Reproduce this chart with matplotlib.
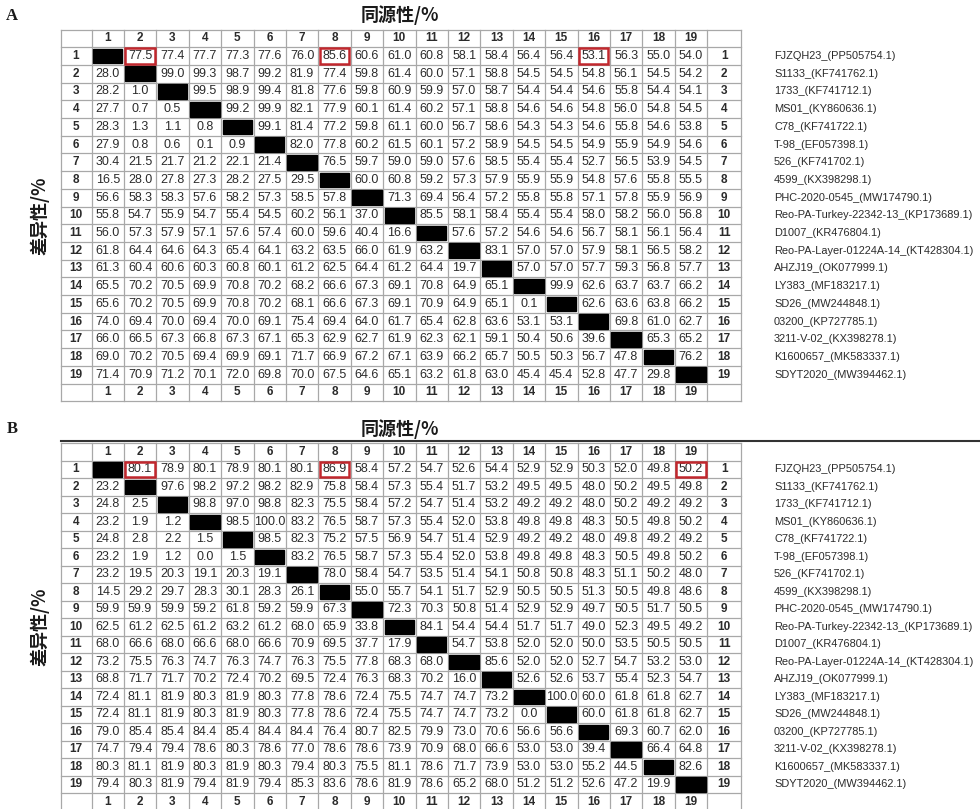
import matplotlib
matplotlib.use('Agg')
import matplotlib.pyplot as plt
from matplotlib.patches import Rectangle

plt.rcParams['font.family'] = ['Liberation Sans', 'DejaVu Sans']

# strain names (row order of both matrices)
names = [
    "FJZQH23_(PP505754.1)", "S1133_(KF741762.1)", "1733_(KF741712.1)",
    "MS01_(KY860636.1)", "C78_(KF741722.1)", "T-98_(EF057398.1)",
    "526_(KF741702.1)", "4599_(KX398298.1)", "PHC-2020-0545_(MW174790.1)",
    "Reo-PA-Turkey-22342-13_(KP173689.1)", "D1007_(KR476804.1)",
    "Reo-PA-Layer-01224A-14_(KT428304.1)", "AHZJ19_(OK077999.1)",
    "LY383_(MF183217.1)", "SD26_(MW244848.1)", "03200_(KP727785.1)",
    "3211-V-02_(KX398278.1)", "K1600657_(MK583337.1)", "SDYT2020_(MW394462.1)",
]

# upper triangle = identity %, lower triangle = divergence %, None = diagonal
matrix_a = [
    [None, 77.5, 77.4, 77.7, 77.3, 77.6, 76.0, 85.6, 60.6, 61.0, 60.8, 58.1, 58.4, 56.4, 56.4, 53.1, 56.3, 55.0, 54.0],
    [28.0, None, 99.0, 99.3, 98.7, 99.2, 81.9, 77.4, 59.8, 61.4, 60.0, 57.1, 58.8, 54.5, 54.5, 54.8, 56.1, 54.5, 54.2],
    [28.2, 1.0, None, 99.5, 98.9, 99.4, 81.8, 77.6, 59.8, 60.9, 59.9, 57.0, 58.7, 54.4, 54.4, 54.6, 55.8, 54.4, 54.1],
    [27.7, 0.7, 0.5, None, 99.2, 99.9, 82.1, 77.9, 60.1, 61.4, 60.2, 57.1, 58.8, 54.6, 54.6, 54.8, 56.0, 54.8, 54.5],
    [28.3, 1.3, 1.1, 0.8, None, 99.1, 81.4, 77.2, 59.8, 61.1, 60.0, 56.7, 58.6, 54.3, 54.3, 54.6, 55.8, 54.6, 53.8],
    [27.9, 0.8, 0.6, 0.1, 0.9, None, 82.0, 77.8, 60.2, 61.5, 60.1, 57.2, 58.9, 54.5, 54.5, 54.9, 55.9, 54.9, 54.6],
    [30.4, 21.5, 21.7, 21.2, 22.1, 21.4, None, 76.5, 59.7, 59.0, 59.0, 57.6, 58.5, 55.4, 55.4, 52.7, 56.5, 53.9, 54.5],
    [16.5, 28.0, 27.8, 27.3, 28.2, 27.5, 29.5, None, 60.0, 60.8, 59.2, 57.3, 57.9, 55.9, 55.9, 54.8, 57.6, 55.8, 55.5],
    [56.6, 58.3, 58.3, 57.6, 58.2, 57.3, 58.5, 57.8, None, 71.3, 69.4, 56.4, 57.2, 55.8, 55.8, 57.1, 57.8, 55.9, 56.9],
    [55.8, 54.7, 55.9, 54.7, 55.4, 54.5, 60.2, 56.1, 37.0, None, 85.5, 58.1, 58.4, 55.4, 55.4, 58.0, 58.2, 56.0, 56.8],
    [56.0, 57.3, 57.9, 57.1, 57.6, 57.4, 60.0, 59.6, 40.4, 16.6, None, 57.6, 57.2, 54.6, 54.6, 56.7, 58.1, 56.1, 56.4],
    [61.8, 64.4, 64.6, 64.3, 65.4, 64.1, 63.2, 63.5, 66.0, 61.9, 63.2, None, 83.1, 57.0, 57.0, 57.9, 58.1, 56.5, 58.2],
    [61.3, 60.4, 60.6, 60.3, 60.8, 60.1, 61.2, 62.5, 64.4, 61.2, 64.4, 19.7, None, 57.0, 57.0, 57.7, 59.3, 56.8, 57.7],
    [65.5, 70.2, 70.5, 69.9, 70.8, 70.2, 68.2, 66.6, 67.3, 69.1, 70.8, 64.9, 65.1, None, 99.9, 62.6, 63.7, 63.7, 66.2],
    [65.6, 70.2, 70.5, 69.9, 70.8, 70.2, 68.1, 66.6, 67.3, 69.1, 70.9, 64.9, 65.1, 0.1, None, 62.6, 63.6, 63.8, 66.2],
    [74.0, 69.4, 70.0, 69.4, 70.0, 69.1, 75.4, 69.4, 64.0, 61.7, 65.4, 62.8, 63.6, 53.1, 53.1, None, 69.8, 61.0, 62.7],
    [66.0, 66.5, 67.3, 66.8, 67.3, 67.1, 65.3, 62.9, 62.7, 61.9, 62.3, 62.1, 59.1, 50.4, 50.6, 39.6, None, 65.3, 65.2],
    [69.0, 70.2, 70.5, 69.4, 69.9, 69.1, 71.7, 66.9, 67.2, 67.1, 63.9, 66.2, 65.7, 50.5, 50.3, 56.7, 47.8, None, 76.2],
    [71.4, 70.9, 71.2, 70.1, 72.0, 69.8, 70.0, 67.5, 64.6, 65.1, 63.2, 61.8, 63.0, 45.4, 45.4, 52.8, 47.7, 29.8, None],
]

matrix_b = [
    [None, 80.1, 78.9, 80.1, 78.9, 80.1, 80.1, 86.9, 58.4, 57.2, 54.7, 52.6, 54.4, 52.9, 52.9, 50.3, 52.0, 49.8, 50.2],
    [23.2, None, 97.6, 98.2, 97.2, 98.2, 82.9, 75.8, 58.4, 57.3, 55.4, 51.7, 53.2, 49.5, 49.5, 48.0, 50.2, 49.5, 49.8],
    [24.8, 2.5, None, 98.8, 97.0, 98.8, 82.3, 75.5, 58.4, 57.2, 54.7, 51.4, 53.2, 49.2, 49.2, 48.0, 50.2, 49.2, 49.2],
    [23.2, 1.9, 1.2, None, 98.5, 100.0, 83.2, 76.5, 58.7, 57.3, 55.4, 52.0, 53.8, 49.8, 49.8, 48.3, 50.5, 49.8, 50.2],
    [24.8, 2.8, 2.2, 1.5, None, 98.5, 82.3, 75.2, 57.5, 56.9, 54.7, 51.4, 52.9, 49.2, 49.2, 48.0, 49.8, 49.2, 49.2],
    [23.2, 1.9, 1.2, 0.0, 1.5, None, 83.2, 76.5, 58.7, 57.3, 55.4, 52.0, 53.8, 49.8, 49.8, 48.3, 50.5, 49.8, 50.2],
    [23.2, 19.5, 20.3, 19.1, 20.3, 19.1, None, 78.0, 58.4, 54.7, 53.5, 51.4, 54.1, 50.8, 50.8, 48.3, 51.1, 50.2, 48.0],
    [14.5, 29.2, 29.7, 28.3, 30.1, 28.3, 26.1, None, 55.0, 55.7, 54.1, 51.7, 52.9, 50.5, 50.5, 51.3, 50.5, 49.8, 48.6],
    [59.9, 59.9, 59.9, 59.2, 61.8, 59.2, 59.9, 67.3, None, 72.3, 70.3, 50.8, 51.4, 52.9, 52.9, 49.7, 50.5, 51.7, 50.5],
    [62.5, 61.2, 62.5, 61.2, 63.2, 61.2, 68.0, 65.9, 33.8, None, 84.1, 54.4, 54.4, 51.7, 51.7, 49.0, 52.3, 49.5, 49.2],
    [68.0, 66.6, 68.0, 66.6, 68.0, 66.6, 70.9, 69.5, 37.7, 17.9, None, 54.7, 53.8, 52.0, 52.0, 50.0, 53.5, 50.5, 50.5],
    [73.2, 75.5, 76.3, 74.7, 76.3, 74.7, 76.3, 75.5, 77.8, 68.3, 68.0, None, 85.6, 52.0, 52.0, 52.7, 54.7, 53.2, 53.0],
    [68.8, 71.7, 71.7, 70.2, 72.4, 70.2, 69.5, 72.4, 76.3, 68.3, 70.2, 16.0, None, 52.6, 52.6, 53.7, 55.4, 52.3, 54.7],
    [72.4, 81.1, 81.9, 80.3, 81.9, 80.3, 77.8, 78.6, 72.4, 75.5, 74.7, 74.7, 73.2, None, 100.0, 60.0, 61.8, 61.8, 62.7],
    [72.4, 81.1, 81.9, 80.3, 81.9, 80.3, 77.8, 78.6, 72.4, 75.5, 74.7, 74.7, 73.2, 0.0, None, 60.0, 61.8, 61.8, 62.7],
    [79.0, 85.4, 85.4, 84.4, 85.4, 84.4, 84.4, 76.4, 80.7, 82.5, 79.9, 73.0, 70.6, 56.6, 56.6, None, 69.3, 60.7, 62.0],
    [74.7, 79.4, 79.4, 78.6, 80.3, 78.6, 77.0, 78.6, 78.6, 73.9, 70.9, 68.0, 66.6, 53.0, 53.0, 39.4, None, 66.4, 64.8],
    [80.3, 81.1, 81.9, 80.3, 81.9, 80.3, 79.4, 80.3, 75.5, 81.1, 78.6, 71.7, 73.9, 53.0, 53.0, 55.2, 44.5, None, 82.6],
    [79.4, 80.3, 81.9, 79.4, 81.9, 79.4, 85.3, 83.6, 78.6, 81.9, 78.6, 65.2, 68.0, 51.2, 51.2, 52.6, 47.2, 19.9, None],
]

# highlighted cells (row, col), 1-based
boxed_a = [(1, 2), (1, 8), (1, 16)]
boxed_b = [(1, 2), (1, 8), (1, 19)]

W, H = 980, 809
fig = plt.figure(figsize=(9.8, 8.09), dpi=100)
ax = fig.add_axes([0, 0, 1, 1])
ax.set_xlim(0, W)
ax.set_ylim(H, 0)
ax.axis('off')

left = 60.5
lab_w = 31
cell_w = 32.4
right_w = 34
grid = '#a8a8a8'
ink = '#2b2b2b'
cjk = ['Noto Sans CJK SC', 'DejaVu Sans']


def draw_table(top, row_h, matrix, boxed, letter, top_line):
    n = len(matrix)
    x_data = left + lab_w
    x_end = x_data + n * cell_w + right_w
    nrows = n + 2

    # grid
    for r in range(nrows + 1):
        y = top + r * row_h
        ax.plot([left, x_end], [y, y], color=grid, lw=0.9, zorder=1)
    xs = [left] + [x_data + c * cell_w for c in range(n + 1)] + [x_end]
    for xv in xs:
        ax.plot([xv, xv], [top, top + nrows * row_h], color=grid, lw=0.9, zorder=1)

    # header / footer numbers and row labels
    for k in range(1, n + 1):
        cx = x_data + (k - 0.5) * cell_w
        cy = top + (k + 0.5) * row_h
        for yy in (top + 0.5 * row_h, top + (n + 1.5) * row_h):
            ax.text(cx, yy, str(k), ha='center', va='center', fontsize=8.5,
                    weight='bold', color=ink)
        ax.text(left + lab_w / 2, cy, str(k), ha='center', va='center',
                fontsize=8.5, weight='bold', color=ink)
        ax.text(x_data + n * cell_w + right_w / 2, cy, str(k), ha='center',
                va='center', fontsize=8.5, weight='bold', color=ink)
        ax.text(774, cy, names[k - 1], ha='left', va='center', fontsize=7.9,
                color=ink)

    # cells
    for i, row in enumerate(matrix):
        cy = top + (i + 1.5) * row_h
        for j, v in enumerate(row):
            cx = x_data + (j + 0.5) * cell_w
            if v is None:
                ax.add_patch(Rectangle((x_data + j * cell_w + 1.5, top + (i + 1) * row_h + 1.5),
                                       cell_w - 3, row_h - 3, color='black', zorder=2))
            else:
                ax.text(cx, cy, f"{v:.1f}", ha='center', va='center',
                        fontsize=9, color=ink)

    for (i, j) in boxed:
        ax.add_patch(Rectangle((x_data + (j - 1) * cell_w + 1.5, top + i * row_h + 1),
                               cell_w - 3, row_h - 2, fill=False,
                               edgecolor='#c1272d', lw=1.8, zorder=3))

    # titles
    ax.text(400, top - 14, '同源性/%', ha='center', va='center', fontsize=13,
            weight='bold', family=cjk, color='#1a1a1a')
    ax.text(40, top + nrows * row_h / 2, '差异性/%', ha='center', va='center',
            fontsize=13, weight='bold', rotation=90, family=cjk, color='#1a1a1a')
    ax.text(12, top - 14, letter, ha='center', va='center', fontsize=12,
            weight='bold', family=['Liberation Serif', 'DejaVu Serif'], color='#1a1a1a')
    if top_line:
        ax.plot([left, W], [top - 2, top - 2], color='#333333', lw=1.5, zorder=1)


draw_table(29.5, 17.7, matrix_a, boxed_a, 'A', False)
draw_table(443, 17.5, matrix_b, boxed_b, 'B', True)

fig.savefig('out.png', dpi=100)
